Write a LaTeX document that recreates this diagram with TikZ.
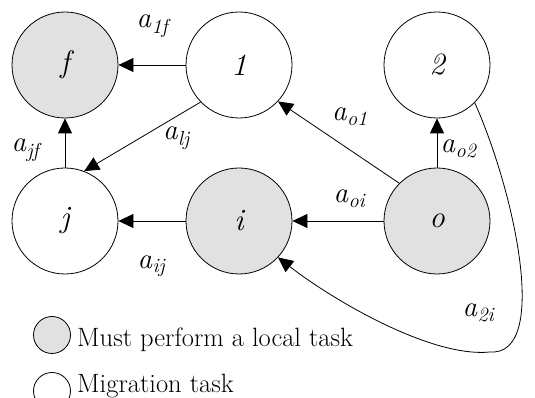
\documentclass[tikz,border=0pt]{standalone}
\usetikzlibrary{arrows.meta}
\definecolor{localgray}{RGB}{225,225,225}
\newcommand{\weightof}[1]{\textit{a}\textsubscript{\textit{#1}}}

\begin{document}
\begin{tikzpicture}[x=1pt,y=1pt,
  task/.style={circle, draw, line width=0.8pt, minimum size=106pt, inner sep=0pt, font=\fontsize{31}{35}\selectfont\itshape},
  localtask/.style={task, fill=localgray},
  keycircle/.style={circle, draw, line width=0.8pt, minimum size=37pt, inner sep=0pt},
  edge/.style={line width=0.8pt, -{Triangle[length=15pt,width=14pt]}},
  weight/.style={font=\fontsize{29}{33}\selectfont},
  keytext/.style={anchor=base west, inner sep=0pt, font=\fontsize{26.5}{31}\selectfont}]
\useasboundingbox (0,0) rectangle (535,398);
\coordinate (pf) at (65,333);
\coordinate (p1) at (239,333);
\coordinate (p2) at (437,333);
\coordinate (pj) at (65,177);
\coordinate (pi) at (239,177);
\coordinate (po) at (437,177);
% draws vertices
\node[localtask] (f) at (pf) {f};
\node[task] (n1) at (p1) {1};
\node[task] (n2) at (p2) {2};
\node[task] (j) at (pj) {j};
\node[localtask] (i) at (pi) {i};
\node[localtask] (o) at (po) {o};
% labels edges
\node[weight] (w1f) at (154,372) {\weightof{1f}};
\node[weight] (wlj) at (177,260) {\weightof{lj}};
\node[weight] (wjf) at (27,248) {\weightof{jf}};
\node[weight] (wo1) at (350,281) {\weightof{o1}};
\node[weight] (wo2) at (459,249) {\weightof{o2}};
\node[weight] (woi) at (350,199) {\weightof{oi}};
\node[weight] (wij) at (152,132) {\weightof{ij}};
\node[weight] (w2i) at (479,85) {\weightof{2i}};
% draws edges
\draw[edge] (n1) -- (f);
\draw[edge] (n1.224) -- (j.69);
\draw[edge] (j) -- (f);
\draw[edge] (o.135) -- (n1.-43);
\draw[edge] (o) -- (n2);
\draw[edge] (o) -- (i);
\draw[edge] (i) -- (j);
\draw[edge] (n2.-45) .. controls (515,205) and (550,42) .. (490,46)
  .. controls (430,40) and (330,100) .. (i.-43);
% draws legend
\node[keycircle, fill=localgray] (klocal) at (52,63) {};
\node[keytext] (tlocal) at (77,51) {Must perform a local task};
\node[keycircle] (kmigr) at (52,7) {};
\node[keytext] (tmigr) at (77,5) {Migration task};
\end{tikzpicture}
\end{document}
